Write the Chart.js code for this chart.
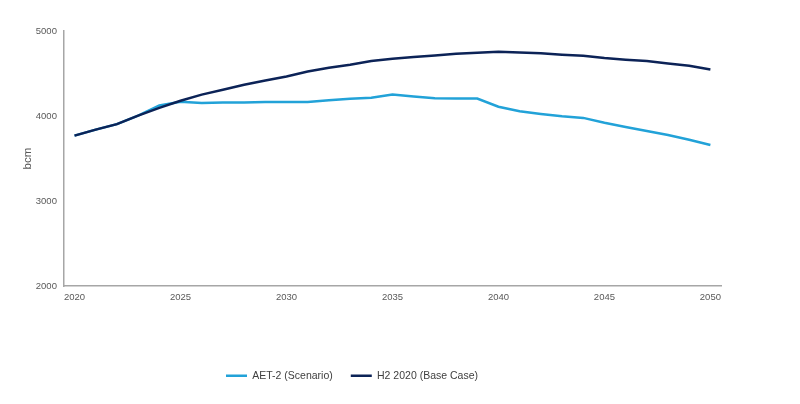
<!DOCTYPE html>
<html>
<head>
<meta charset="utf-8">
<script src="https://cdn.jsdelivr.net/npm/chart.js@4"></script>
<style>
  html, body { margin: 0; padding: 0; background: #fff; }
  #wrap { width: 800px; height: 404px; }
</style>
</head>
<body>
<div id="wrap"><canvas id="chart"></canvas></div>
<script>
// Years on the x axis
const years = [];
for (let y = 2020; y <= 2050; y++) years.push(String(y));

// AET-2 (Scenario), bcm
const aet2 = [
  3770, 3840, 3905, 4005, 4123, 4168, 4152, 4158, 4158, 4164,
  4165, 4166, 4185, 4202, 4214, 4252, 4230, 4208, 4206, 4206,
  4110, 4056, 4025, 3998, 3978, 3920, 3872, 3825, 3777, 3722,
  3659
];

// H2 2020 (Base Case), bcm
const h2Base = [
  3770, 3840, 3905, 4005, 4096, 4180, 4252, 4308, 4367, 4418,
  4465, 4523, 4567, 4603, 4646, 4674, 4693, 4713, 4733, 4744,
  4756, 4748, 4737, 4721, 4709, 4682, 4662, 4646, 4619, 4591,
  4548
];

const axisGrey = '#a6a6a6';
const textGrey = '#595959';
const fontFamily = 'Liberation Sans, Arial, sans-serif';

// The legend in the source sits a bit left of the plot centre
const legendShift = {
  id: 'legendShift',
  afterLayout(chart) {
    if (!chart.legend) return;
    chart.legend.left -= 19;
    chart.legend.right -= 19;
  }
};

const config = {
  type: 'line',
  data: {
    labels: years,
    datasets: [
      {
        label: 'AET-2 (Scenario)',
        data: aet2,
        borderColor: '#22a2d8',
        backgroundColor: '#22a2d8',
        borderWidth: 2.5,
        pointRadius: 0,
        tension: 0,
        order: 1
      },
      {
        label: 'H2 2020 (Base Case)',
        data: h2Base,
        borderColor: '#0c2357',
        backgroundColor: '#0c2357',
        borderWidth: 2.5,
        pointRadius: 0,
        tension: 0,
        order: 0
      }
    ]
  },
  options: {
    responsive: true,
    maintainAspectRatio: false,
    animation: false,
    layout: {
      padding: { top: 31, right: 79, bottom: 13, left: 21 }
    },
    plugins: {
      legend: {
        position: 'bottom',
        labels: {
          usePointStyle: true,
          pointStyle: 'line',
          pointStyleWidth: 21,
          padding: 18,
          color: '#404040',
          font: { family: fontFamily, size: 10.5 },
          sort: (a, b) => a.datasetIndex - b.datasetIndex
        }
      },
      tooltip: { enabled: false }
    },
    scales: {
      x: {
        offset: true,
        grid: { display: false, drawTicks: false },
        border: { display: true, color: axisGrey, width: 1.5 },
        ticks: {
          autoSkip: false,
          maxRotation: 0,
          padding: 6,
          color: textGrey,
          font: { family: fontFamily, size: 9.5 },
          callback: function (value) {
            const lab = this.getLabelForValue(value);
            return Number(lab) % 5 === 0 ? lab : '';
          }
        },
        // leave the blank band between the axis and the legend
        afterFit: (scale) => { scale.height += 43; }
      },
      y: {
        min: 2000,
        max: 5000,
        grid: { display: false, drawTicks: false },
        border: { display: true, color: axisGrey, width: 1.5 },
        ticks: {
          stepSize: 1000,
          padding: 7,
          color: textGrey,
          font: { family: fontFamily, size: 9.5 },
          callback: (value) => String(value)
        },
        title: {
          display: true,
          text: 'bcm',
          color: textGrey,
          padding: { top: 0, bottom: -6 },
          font: { family: fontFamily, size: 11.5 }
        }
      }
    }
  },
  plugins: [legendShift]
};

new Chart(document.getElementById('chart'), config);
</script>
</body>
</html>
